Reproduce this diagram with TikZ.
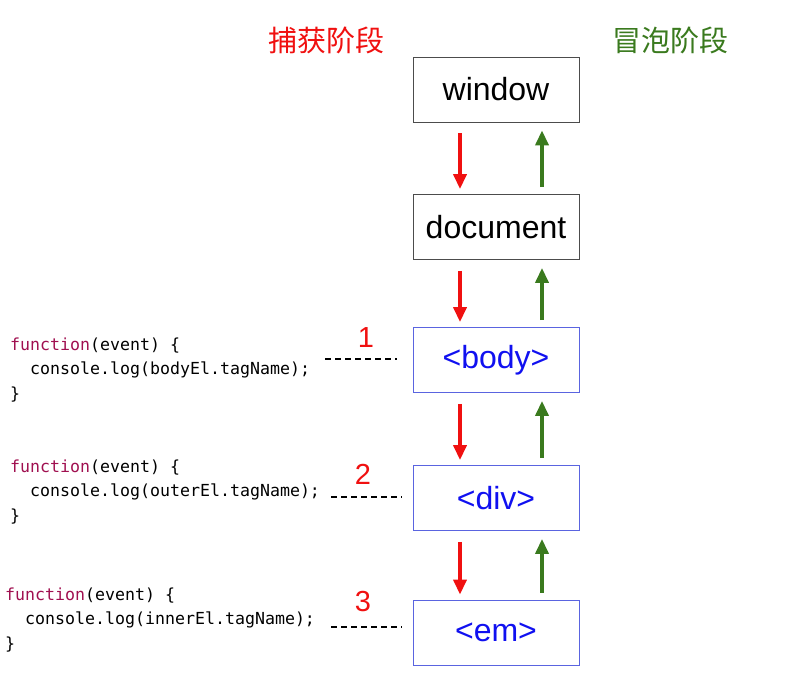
\documentclass[tikz,border=0pt]{standalone}
\usepackage{fontspec}
\setmainfont{Liberation Sans}
\newfontfamily\cjk{Noto Sans CJK SC}
\newfontfamily\codefont{DejaVu Sans Mono}
\usetikzlibrary{arrows.meta}
\definecolor{capred}{HTML}{F01010}
\definecolor{bubgreen}{HTML}{3A7A1E}
\definecolor{tagblue}{HTML}{1010F0}
\definecolor{boxblue}{HTML}{5A64E0}
\definecolor{kwcol}{HTML}{A01050}
\begin{document}
\begin{tikzpicture}[x=1pt,y=-1pt,
  elbox/.style={draw=black!70,line width=0.8pt,minimum width=166pt,minimum height=65pt,inner sep=0pt,font=\fontsize{32}{33}\selectfont},
  tagbox/.style={elbox,draw=boxblue,text=tagblue},
  down/.style={capred,line width=3.5pt,-{Triangle[width=13pt,length=15pt]}},
  up/.style={bubgreen,line width=3.5pt,-{Triangle[width=13pt,length=15pt]}},
  title/.style={font=\cjk\fontsize{29}{30}\selectfont},
  num/.style={capred,font=\fontsize{29}{29}\selectfont},
  code/.style={anchor=west,inner sep=0pt,font=\codefont\fontsize{16.6}{17}\selectfont},
  link/.style={line width=2pt,dash pattern=on 6pt off 4pt}
]
\useasboundingbox (0,0) rectangle (800,678);
\node[title,capred] (cap) at (326,40) {捕获阶段};
\node[title,bubgreen] (bub) at (670,40) {冒泡阶段};

\node[elbox] (win) at (496,89.5) {window};
\node[elbox] (doc) at (496,227) {document};
\node[tagbox] (body) at (496,360) {<body>};
\node[tagbox] (div) at (496,498) {<div>};
\node[tagbox] (em) at (496,632.5) {<em>};

\foreach \a/\b in {win/doc,doc/body,body/div,div/em}{
  \draw[down] ([xshift=-36pt,yshift=-11pt]\a.south) -- ([xshift=-36pt,yshift=5pt]\b.north);
  \draw[up] ([xshift=46pt,yshift=7pt]\b.north) -- ([xshift=46pt,yshift=-8pt]\a.south);
}

\node[num] (n1) at (366,338) {1};
\node[num] (n2) at (363,474) {2};
\node[num] (n3) at (363,602) {3};

\coordinate (d1) at (325,359);
\coordinate (d2) at (331,497);
\coordinate (d3) at (331,627);
\draw[link] (d1) -- ([xshift=-16pt]d1 -| body.west);
\draw[link] (d2) -- ([xshift=-11pt]d2 -| div.west);
\draw[link] (d3) -- ([xshift=-11pt]d3 -| em.west);

\node[code] (c1a) at (10,346) {\textcolor{kwcol}{function}(event) \{};
\node[code] (c1b) at (10,370) {\ \ console.log(bodyEl.tagName);};
\node[code] (c1c) at (10,395) {\}};
\node[code] (c2a) at (10,468) {\textcolor{kwcol}{function}(event) \{};
\node[code] (c2b) at (10,492) {\ \ console.log(outerEl.tagName);};
\node[code] (c2c) at (10,517) {\}};
\node[code] (c3a) at (5,596) {\textcolor{kwcol}{function}(event) \{};
\node[code] (c3b) at (5,620) {\ \ console.log(innerEl.tagName);};
\node[code] (c3c) at (5,645) {\}};
\end{tikzpicture}
\end{document}
